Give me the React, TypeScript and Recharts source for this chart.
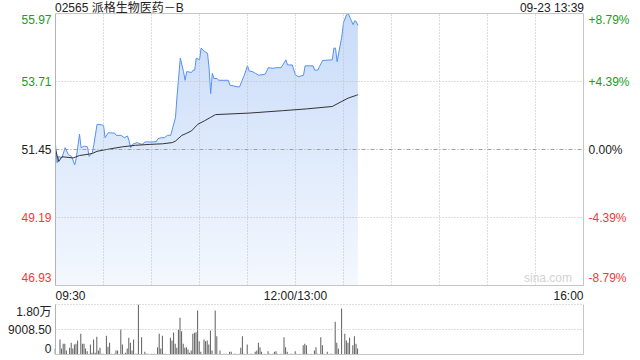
import React from "react";
import {
  ComposedChart,
  BarChart,
  Area,
  Line,
  Bar,
  XAxis,
  YAxis,
  ReferenceLine,
} from "recharts";

// ---- data (minutes since 09:30, lunch break removed) ----
const title = "02565 派格生物医药－B";
const stamp = "09-23 13:39";
const watermark = "sina.com";

const priceTicks = [46.93, 49.19, 51.45, 53.71, 55.97];
const pctLabels = ["-8.79%", "-4.39%", "0.00%", "+4.39%", "+8.79%"];
const timeTicks = [0, 30, 60, 90, 120, 150, 180, 210, 240, 270, 300, 330];
const timeLabelAt = [0, 150, 330];
const timeLabels = ["09:30", "12:00/13:00", "16:00"];

const priceMinutes = [
  0, 1, 2, 4, 6, 8, 10, 12, 13, 15, 16, 18, 20, 21, 23, 24, 26, 30, 31, 33,
  37, 38, 41, 43, 45, 46, 47, 48, 51, 54, 56, 59, 63, 64, 66, 68, 70, 72, 73, 75,
  76, 78, 80, 81, 82, 85, 86, 87, 88, 90, 91, 93, 95, 96, 97, 98, 99, 101, 102, 108,
  109, 114, 115, 117, 118, 120, 121, 123, 125, 127, 131, 133, 136, 138, 141, 144, 145, 148, 150, 152,
  155, 156, 161, 162, 164, 165, 167, 173, 174, 175, 176, 179, 180, 182, 183, 184, 186, 187, 188, 189,
];
const prices = [
  51.62, 51.01, 51.22, 51.17, 51.51, 51.28, 51.22, 50.94, 51.17, 51.96,
  51.51, 51.56, 51.54, 51.22, 51.34, 51.62, 52.29, 52.26, 51.84, 52.01,
  51.99, 51.92, 51.92, 51.84, 51.9, 51.73, 51.51, 51.62, 51.68, 51.62,
  51.7, 51.7, 51.71, 51.81, 51.84, 51.84, 51.92, 51.92, 52.12, 52.52,
  53.25, 54.49, 54.04, 53.75, 54.04, 54.01, 54.09, 54.09, 54.49, 54.43,
  54.82, 54.71, 54.65, 54.15, 53.31, 53.98, 53.81, 53.81, 53.75, 53.75,
  53.59, 53.53, 53.53, 53.79, 53.92, 54.24, 54.06, 54.04, 53.98, 53.92,
  53.95, 54.17, 54.15, 54.17, 54.17, 54.43, 54.26, 54.26, 53.92, 53.87,
  53.92, 54.23, 54.23, 54.09, 54.09, 54.21, 54.41, 54.43, 54.82, 54.82,
  54.37, 55.22, 55.67, 55.94, 55.97, 55.84, 55.6, 55.73, 55.7, 55.57,
];

const avgMinutes = [
  0, 2, 4, 11, 15, 19, 23, 26, 30, 34, 42, 50, 59, 67, 73, 75,
  79, 82, 85, 89, 93, 97, 100, 121, 142, 157, 173, 179, 183, 188, 189,
];
const avgPrices = [
  51.45, 51.05, 51.21, 51.17, 51.25, 51.28, 51.32, 51.39, 51.43, 51.47, 51.54, 51.59, 51.62, 51.64, 51.68, 51.73,
  51.92, 51.99, 52.07, 52.29, 52.4, 52.52, 52.61, 52.66, 52.74, 52.8, 52.88, 53.05, 53.16, 53.25, 53.27,
];

// one value per minute, 09:30 .. 13:39
const volumes = [
  2160, 0, 0, 5400, 2160, 3840, 3840, 1440, 0, 2400,
  4200, 2160, 3600, 3840, 5040, 0, 7450, 3840, 3840, 2160,
  1200, 0, 3600, 600, 5400, 600, 6370, 1440, 2400, 240,
  240, 0, 6730, 2760, 4200, 240, 0, 240, 1440, 1440,
  0, 9000, 3600, 240, 600, 2160, 6000, 4200, 1440, 5400,
  240, 240, 18017, 0, 6250, 0, 960, 240, 240, 0,
  240, 0, 240, 0, 2640, 7450, 2160, 6730, 240, 240,
  0, 0, 6000, 5040, 7930, 3840, 2400, 9000, 13200, 8400,
  3840, 2400, 2640, 1800, 600, 1440, 7450, 7800, 8050, 15850,
  4800, 960, 0, 5400, 4800, 5040, 3600, 8650, 1440, 0,
  15850, 6600, 0, 1440, 0, 240, 240, 240, 0, 960,
  960, 0, 240, 240, 0, 240, 2400, 6600, 240, 0,
  3600, 0, 240, 240, 0, 960, 1440, 4200, 2640, 960,
  0, 240, 0, 1200, 240, 0, 240, 960, 1200, 240,
  0, 240, 0, 6250, 2640, 960, 0, 240, 240, 0,
  1200, 240, 0, 240, 0, 3360, 3840, 3360, 240, 0,
  240, 0, 1440, 2640, 240, 0, 6250, 3360, 240, 0,
  960, 0, 240, 240, 0, 11770, 4200, 2160, 0, 16570,
  0, 7450, 5040, 4200, 6000, 0, 3360, 6600, 3840, 2160,
];
const volTicks = [0, 9008.5, 18017];
const volLabels = ["0", "9008.50", "1.80万"];

const FONT = '"Liberation Sans", Arial, "Noto Sans CJK SC", sans-serif';
const GREEN = "#1b9c1b";
const RED = "#ef3b3b";
const DARK = "#222";
const GRID = "#bdbdbd";
const FRAME = "#c6c6c6";
const tickColor = (i: number) => (i < 2 ? RED : i === 2 ? DARK : GREEN);

const priceData = priceMinutes.map((m, i) => ({ m, price: prices[i] }));
const avgData = avgMinutes.map((m, i) => ({ m, avg: avgPrices[i] }));
const volData = volumes.map((v, i) => ({ m: i, vol: v }));

// nudge the top/bottom labels inside the frame, like the original
const edgeDy = (i: number, last: number, top: number, mid: number, bottom: number) =>
  i === last ? top : i === 0 ? bottom : mid;

const PriceTick = (props: any) => {
  const { x, y, payload } = props;
  const i = priceTicks.indexOf(payload.value);
  return (
    <text x={x} y={y + edgeDy(i, 4, 10, 4, -3.5)} textAnchor="end" fill={tickColor(i)} fontSize={12} fontFamily={FONT}>
      {payload.value.toFixed(2)}
    </text>
  );
};

const PctTick = (props: any) => {
  const { x, y, payload } = props;
  const i = priceTicks.indexOf(payload.value);
  return (
    <text x={x} y={y + edgeDy(i, 4, 10, 4, -3.5)} textAnchor="start" fill={tickColor(i)} fontSize={12} fontFamily={FONT}>
      {pctLabels[i]}
    </text>
  );
};

const TimeTick = (props: any) => {
  const { x, y, payload } = props;
  const i = timeLabelAt.indexOf(payload.value);
  if (i < 0) return null;
  const anchor = i === 0 ? "start" : i === 2 ? "end" : "middle";
  return (
    <text x={x} y={y + 12} textAnchor={anchor} fill={DARK} fontSize={12} fontFamily={FONT}>
      {timeLabels[i]}
    </text>
  );
};

const VolTick = (props: any) => {
  const { x, y, payload } = props;
  const i = volTicks.indexOf(payload.value);
  return (
    <text x={x} y={y + edgeDy(i, 2, 11, 4, -2)} textAnchor="end" fill={DARK} fontSize={12} fontFamily={FONT}>
      {volLabels[i]}
    </text>
  );
};

export default function App() {
  const innerTimes = timeTicks.slice(1, -1);
  return (
    <div style={{ position: "absolute", left: 0, top: 0, width: 640, height: 360, background: "#fff", fontFamily: FONT }}>
      <div style={{ position: "absolute", left: 0, top: 0 }}>
        <ComposedChart width={640} height={312} margin={{ top: 13.5, right: 0, bottom: 0, left: 0 }}>
          <defs>
            <linearGradient id="pxFill" x1="0" y1="0" x2="0" y2="1">
              <stop offset="0%" stopColor="#c8dbf9" />
              <stop offset="100%" stopColor="#f4f8fe" />
            </linearGradient>
          </defs>
          <XAxis
            type="number"
            dataKey="m"
            domain={[0, 330]}
            ticks={timeTicks}
            interval={0}
            allowDataOverflow
            height={26.5}
            axisLine={false}
            tickLine={false}
            tickSize={0}
            tick={<TimeTick />}
          />
          <YAxis
            yAxisId="left"
            width={55.5}
            domain={[46.93, 55.97]}
            ticks={priceTicks}
            interval={0}
            allowDataOverflow
            axisLine={false}
            tickLine={false}
            tickSize={0}
            tickMargin={4}
            tick={<PriceTick />}
          />
          <YAxis
            yAxisId="right"
            orientation="right"
            width={56.5}
            domain={[46.93, 55.97]}
            ticks={priceTicks}
            interval={0}
            allowDataOverflow
            axisLine={false}
            tickLine={false}
            tickSize={0}
            tickMargin={5}
            tick={<PctTick />}
          />
          {innerTimes.map((t) => (
            <ReferenceLine key={`vx-${t}`} yAxisId="left" x={t} stroke={GRID} strokeDasharray="1 2" />
          ))}
          <ReferenceLine yAxisId="left" y={53.71} stroke={GRID} strokeDasharray="1 2" />
          <ReferenceLine yAxisId="left" y={49.19} stroke={GRID} strokeDasharray="1 2" />
          <Area
            yAxisId="left"
            data={priceData}
            dataKey="price"
            type="linear"
            stroke="#5591ef"
            strokeWidth={1}
            fill="url(#pxFill)"
            fillOpacity={1}
            dot={false}
            activeDot={false}
            isAnimationActive={false}
          />
          <Line
            yAxisId="right"
            data={avgData}
            dataKey="avg"
            type="linear"
            stroke="#333"
            strokeWidth={1}
            dot={false}
            activeDot={false}
            isAnimationActive={false}
          />
          <ReferenceLine yAxisId="left" y={51.45} stroke="#a0a0a0" strokeDasharray="4 2 1 2" />
          <ReferenceLine yAxisId="left" y={55.97} stroke={FRAME} />
          <ReferenceLine yAxisId="left" y={46.93} stroke={FRAME} />
          <ReferenceLine yAxisId="left" x={0} stroke="#b4b4b4" />
          <ReferenceLine yAxisId="left" x={330} stroke={FRAME} />
        </ComposedChart>
      </div>

      <div style={{ position: "absolute", left: 0, top: 300 }}>
        <BarChart width={640} height={60} data={volData} margin={{ top: 4.5, right: 56.5, bottom: 5.5, left: 0 }}>
          <XAxis type="number" dataKey="m" domain={[0, 330]} hide />
          <YAxis
            width={55.5}
            domain={[0, 18017]}
            ticks={volTicks}
            interval={0}
            allowDataOverflow
            axisLine={false}
            tickLine={false}
            tickSize={0}
            tickMargin={4}
            tick={<VolTick />}
          />
          <ReferenceLine y={18017} stroke={GRID} strokeDasharray="1 2" />
          <ReferenceLine y={9008.5} stroke={GRID} strokeDasharray="1 2" />
          <Bar dataKey="vol" fill="#5e5e5e" barSize={1} isAnimationActive={false} />
          <ReferenceLine x={0} stroke="#b4b4b4" />
          <ReferenceLine x={330} stroke={FRAME} />
          <ReferenceLine y={0} stroke={FRAME} />
        </BarChart>
      </div>

      <svg width={640} height={360} style={{ position: "absolute", left: 0, top: 0, pointerEvents: "none" }}>
        <text x={55} y={12} fontSize={12} fill={DARK} fontFamily={FONT}>
          {title}
        </text>
        <text x={584} y={12} fontSize={12} fill={DARK} fontFamily={FONT} textAnchor="end">
          {stamp}
        </text>
        <text x={572} y={282} fontSize={12} fill="#d2d2d2" fontFamily={FONT} textAnchor="end">
          {watermark}
        </text>
      </svg>
    </div>
  );
}
